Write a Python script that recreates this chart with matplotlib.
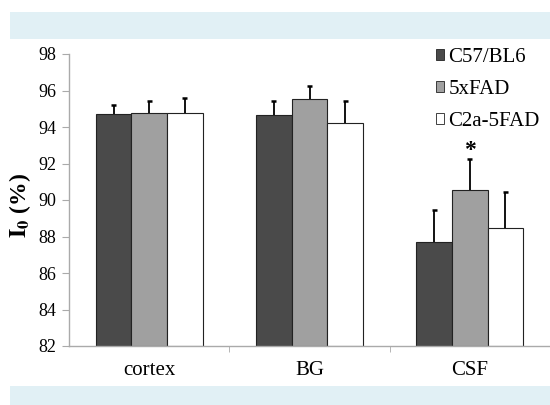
import matplotlib
matplotlib.use("Agg")
import matplotlib.pyplot as plt
from matplotlib.patches import Rectangle, Patch
import numpy as np

categories = ["cortex", "BG", "CSF"]
series = ["C57/BL6", "5xFAD", "C2a-5FAD"]
values = {
    "C57/BL6": [94.7, 94.65, 87.7],
    "5xFAD": [94.75, 95.55, 90.55],
    "C2a-5FAD": [94.75, 94.2, 88.45],
}
errors = {
    "C57/BL6": [0.5, 0.8, 1.77],
    "5xFAD": [0.7, 0.72, 1.7],
    "C2a-5FAD": [0.85, 1.24, 1.97],
}
colors = ["#4a4a4a", "#a0a0a0", "#ffffff"]
yticks = [82, 84, 86, 88, 90, 92, 94, 96, 98]

plt.rcParams["font.family"] = ["Liberation Serif", "DejaVu Serif"]
plt.rcParams["mathtext.fontset"] = "stix"

W, H = 550, 405
fig = plt.figure(figsize=(W / 100, H / 100), dpi=100)
fig.patch.set_facecolor("white")

# light blue bands
fig.patches.append(Rectangle((10 / W, (H - 39) / H), 540 / W, 27 / H,
                             transform=fig.transFigure, facecolor="#e1f0f5",
                             edgecolor="none", zorder=0))
fig.patches.append(Rectangle((10 / W, 0), 540 / W, 19 / H,
                             transform=fig.transFigure, facecolor="#e1f0f5",
                             edgecolor="none", zorder=0))

left, right = 69, 550
top, bottom = 54, 346
ax = fig.add_axes([left / W, (H - bottom) / H, (right - left) / W, (bottom - top) / H])
ax.set_facecolor("none")

cat_px = 163.3
x = np.arange(len(categories))
bw = 36.3 / cat_px
cap = 0.016
for i, s in enumerate(series):
    pos = x + (i - 1) * bw
    v = np.array(values[s])
    e = np.array(errors[s])
    ax.bar(pos, v - 82, bottom=82, width=bw, color=colors[i],
           edgecolor="#222222", linewidth=0.8, zorder=2)
    ax.vlines(pos, v, v + e, color="black", linewidth=1.3, zorder=3)
    ax.hlines(v + e, pos - cap, pos + cap, color="black", linewidth=1.8, zorder=3)

# significance marker
ax.text(x[2], values["5xFAD"][2] + errors["5xFAD"][2] + 0.45, "*", ha="center",
        va="center", fontsize=17, fontweight="bold", zorder=4)

ax.set_ylim(82, 98)
ax.set_yticks(yticks)
ax.set_xlim(-0.5, -0.5 + (right - left) / cat_px)
ax.set_xticks(x)
ax.set_xticklabels(categories, fontsize=15)
ax.set_xticks([0.5, 1.5, 2.5], minor=True)
ax.tick_params(axis="x", which="major", length=0, pad=11)
ax.tick_params(axis="x", which="minor", length=4, color="#aaaaaa")
ax.tick_params(axis="y", length=5, color="#aaaaaa", labelsize=13, pad=4)

for sp in ["top", "right"]:
    ax.spines[sp].set_visible(False)
for sp in ["left", "bottom"]:
    ax.spines[sp].set_color("#aaaaaa")
    ax.spines[sp].set_linewidth(1.0)

ax.set_ylabel(r"$\mathbf{I_0}$ (%)", fontsize=17, fontweight="bold")
ax.yaxis.set_label_coords((33 - left) / (right - left), (bottom - 205) / (bottom - top))

handles = [Patch(facecolor=colors[i], edgecolor="#222222", linewidth=0.6) for i in range(3)]
ax.legend(handles, series, loc="upper left", bbox_to_anchor=(436 / W, (H - 48) / H),
          bbox_transform=fig.transFigure, frameon=False, fontsize=15,
          handlelength=0.4, handleheight=0.4, handletextpad=0.2,
          labelspacing=0.62, borderaxespad=0, borderpad=0)

fig.savefig("out.png", dpi=100)
